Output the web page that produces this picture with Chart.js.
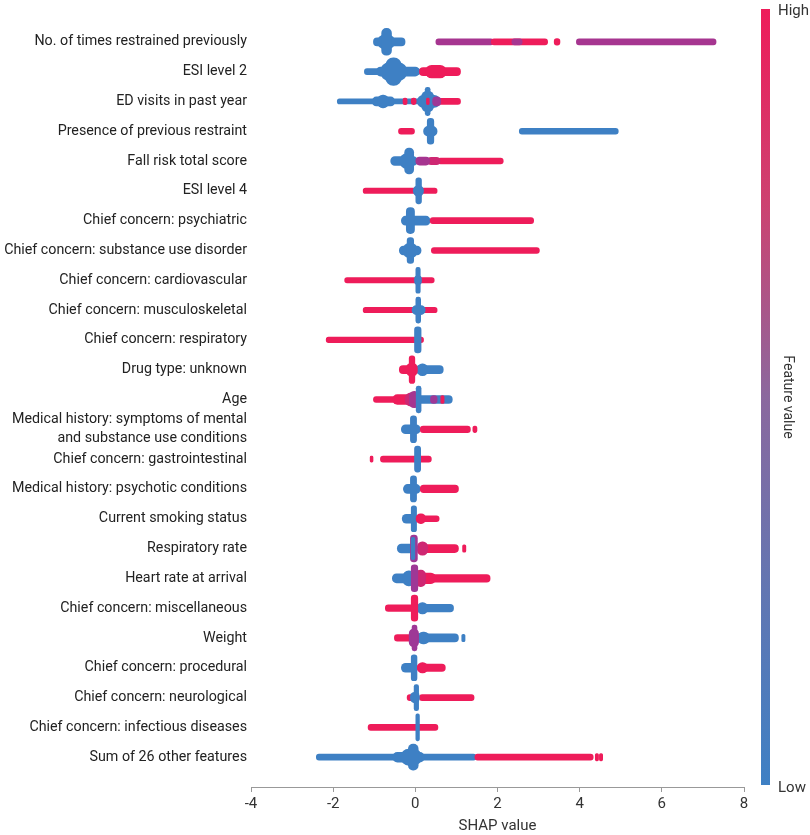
<!DOCTYPE html>
<html lang="en">
<head>
  <meta charset="UTF-8">
  <title>SHAP summary</title>
  <script src="https://cdn.jsdelivr.net/npm/chart.js"></script>
  <style>
    html, body { margin: 0; padding: 0; background: #fff; }
    #wrap { width: 810px; height: 835px; position: relative; }
  </style>
</head>
<body>
  <div id="wrap">
    <canvas id="myChart"></canvas>
  </div>

<script>
  // feature names, top to bottom
  const features = [
    'No. of times restrained previously',
    'ESI level 2',
    'ED visits in past year',
    'Presence of previous restraint',
    'Fall risk total score',
    'ESI level 4',
    'Chief concern: psychiatric',
    'Chief concern: substance use disorder',
    'Chief concern: cardiovascular',
    'Chief concern: musculoskeletal',
    'Chief concern: respiratory',
    'Drug type: unknown',
    'Age',
    ['Medical history: symptoms of mental', 'and substance use conditions'],
    'Chief concern: gastrointestinal',
    'Medical history: psychotic conditions',
    'Current smoking status',
    'Respiratory rate',
    'Heart rate at arrival',
    'Chief concern: miscellaneous',
    'Weight',
    'Chief concern: procedural',
    'Chief concern: neurological',
    'Chief concern: infectious diseases',
    'Sum of 26 other features'
  ]

  // swarm outline, one list per feature:
  // [shap from, shap to, point density (share of row), feature value 0=low 1=high]
  const swarm = [
    [[-1.02, -0.25, 0.27, 0], [-0.92, -0.5, 0.45, 0], [-0.82, -0.58, 0.9, 0],
     [0.5, 1.9, 0.2, 0.55], [1.85, 3.22, 0.2, 1], [2.35, 2.6, 0.2, 0.55],
     [3.38, 3.52, 0.22, 1], [3.92, 7.32, 0.2, 0.55]],
    [[-1.24, 0.12, 0.2, 0], [-0.95, 0.1, 0.3, 0], [-0.85, -0.2, 0.6, 0], [-0.72, -0.34, 0.93, 0],
     [0.1, 1.1, 0.27, 1], [0.25, 0.75, 0.42, 1]],
    [[-1.9, 0.35, 0.17, 0], [-1.05, -0.5, 0.3, 0], [-0.92, -0.65, 0.43, 0],
     [-0.3, -0.2, 0.22, 1], [-0.1, 0.02, 0.22, 1], [0.55, 1.1, 0.2, 1],
     [0.05, 0.6, 0.4, 0], [0.15, 0.45, 0.7, 0], [0.24, 0.36, 0.95, 0],
     [0.42, 0.62, 0.3, 0.5], [0.27, 0.34, 0.22, 1]],
    [[-0.41, -0.02, 0.2, 1], [0.2, 0.53, 0.33, 0], [0.29, 0.45, 0.87, 0], [2.53, 4.94, 0.2, 0]],
    [[-0.6, 0.05, 0.3, 0], [-0.38, 0.0, 0.5, 0], [-0.26, -0.04, 0.87, 0],
     [0.55, 2.14, 0.2, 1], [0.3, 0.6, 0.25, 0.8], [0.0, 0.35, 0.27, 0.55]],
    [[-1.27, 0.53, 0.18, 1], [-0.05, 0.2, 0.35, 0], [0.0, 0.15, 0.87, 0]],
    [[-0.34, 0.36, 0.3, 0], [-0.22, -0.02, 0.87, 0], [0.36, 2.88, 0.2, 1]],
    [[-0.39, 0.14, 0.3, 0], [-0.3, 0.05, 0.5, 0], [-0.2, -0.04, 0.87, 0], [0.39, 3.02, 0.2, 1]],
    [[-1.72, 0.46, 0.18, 1], [-0.02, 0.15, 0.3, 0], [0.0, 0.12, 0.87, 0]],
    [[-1.27, 0.53, 0.18, 1], [-0.08, 0.24, 0.3, 0], [0.0, 0.13, 0.87, 0]],
    [[-2.17, 0.2, 0.18, 1], [-0.02, 0.14, 0.87, 0]],
    [[0.0, 0.68, 0.27, 0], [0.05, 0.3, 0.4, 0],
     [-0.39, 0.0, 0.27, 1], [-0.22, 0.05, 0.45, 1], [-0.15, 0.0, 0.92, 1]],
    [[-1.02, 0.0, 0.2, 1], [-0.55, 0.05, 0.33, 1], [-0.25, 0.05, 0.45, 0.8],
     [0.0, 0.9, 0.27, 0], [0.37, 0.53, 0.27, 0.5], [0.62, 0.7, 0.27, 1],
     [-0.15, 0.1, 0.55, 0.55], [0.02, 0.14, 0.9, 0]],
    [[-0.34, 0.12, 0.3, 0], [-0.12, 0.03, 0.9, 0], [0.12, 1.34, 0.22, 1], [1.4, 1.5, 0.22, 1]],
    [[-1.1, -1.03, 0.2, 1], [-0.85, 0.39, 0.2, 1], [-0.02, 0.13, 0.87, 0]],
    [[-0.29, 0.12, 0.3, 0], [-0.12, 0.03, 0.87, 0], [0.12, 1.05, 0.25, 1]],
    [[-0.32, 0.05, 0.3, 0], [-0.1, 0.03, 0.87, 0], [0.02, 0.58, 0.2, 1], [0.02, 0.25, 0.33, 1]],
    [[-0.44, 0.0, 0.3, 0], [0.2, 1.05, 0.27, 1], [1.15, 1.23, 0.25, 1],
     [0.05, 0.3, 0.45, 0.8], [-0.12, 0.05, 0.9, 0.5], [-0.1, 0.0, 0.75, 0]],
    [[-0.56, 0.0, 0.3, 0], [-0.3, 0.0, 0.5, 0], [0.1, 1.82, 0.25, 1], [0.1, 0.5, 0.35, 1],
     [0.0, 0.25, 0.55, 0.8], [-0.1, 0.06, 0.9, 0.5]],
    [[-0.73, 0.05, 0.22, 1], [0.05, 0.93, 0.25, 0], [0.05, 0.3, 0.38, 0], [-0.1, 0.06, 0.87, 1]],
    [[-0.51, 0.0, 0.22, 1], [0.0, 1.05, 0.27, 0], [0.05, 0.35, 0.4, 0], [1.13, 1.21, 0.25, 0],
     [-0.15, 0.08, 0.6, 0.5], [-0.08, 0.04, 0.87, 0.5]],
    [[-0.34, 0.05, 0.3, 0], [-0.1, 0.04, 0.87, 0], [0.05, 0.73, 0.25, 1], [0.05, 0.3, 0.35, 1]],
    [[-0.2, 0.0, 0.2, 1], [0.1, 1.43, 0.2, 1], [-0.12, 0.1, 0.35, 0], [-0.03, 0.08, 0.87, 0]],
    [[-1.15, 0.55, 0.2, 1], [0.0, 0.1, 0.9, 0]],
    [[-2.41, 1.48, 0.2, 0], [1.45, 4.33, 0.2, 1], [4.38, 4.46, 0.25, 1], [4.48, 4.56, 0.25, 1],
     [-0.55, 0.22, 0.33, 0], [-0.35, 0.15, 0.55, 0], [-0.17, 0.07, 0.87, 0]]
  ]

  const shapMin = -4
  const shapMax = 8
  const shapStep = 2

  // styling
  const FONT = 'Roboto, "Noto Sans", sans-serif'
  const ROW_PX = 29.88
  const LOW = [62, 128, 196]
  const MID = [158, 56, 150]
  const HIGH = [238, 28, 90]

  // size the feature labels so the longest one fits the left margin
  const probe = document.createElement('canvas').getContext('2d')
  probe.font = '100px ' + FONT
  const labelSize = Math.min(16, 100 * 243 / probe.measureText('Chief concern: substance use disorder').width)

  function mix(a, b, t) {
    return a.map((c, i) => Math.round(c + (b[i] - c) * t))
  }
  function pointColor(v) {
    const c = v < 0.5 ? mix(LOW, MID, v / 0.5) : mix(MID, HIGH, (v - 0.5) / 0.5)
    return `rgb(${c[0]},${c[1]},${c[2]})`
  }

  // blank row at each end gives the one-row margin
  const labels = [''].concat(features, [''])

  const datasets = []
  swarm.forEach((segs, r) => {
    segs.forEach(([x0, x1, dens, fv]) => {
      const data = labels.map(() => null)
      data[r + 1] = [x0, x1]
      datasets.push({
        data: data,
        backgroundColor: pointColor(fv),
        barThickness: dens * ROW_PX,
        grouped: false,
        borderSkipped: false,
        borderRadius: 30,
        order: -datasets.length
      })
    })
  })

  const colorBar = {
    id: 'colorBar',
    afterDraw(chart) {
      const ctx = chart.ctx
      const top = 9
      const bottom = 785
      const x = 761
      const grad = ctx.createLinearGradient(0, top, 0, bottom)
      grad.addColorStop(0, 'rgb(238,28,90)')
      grad.addColorStop(0.25, 'rgb(205,66,112)')
      grad.addColorStop(0.5, 'rgb(139,104,158)')
      grad.addColorStop(0.75, 'rgb(98,118,178)')
      grad.addColorStop(1, 'rgb(62,128,196)')
      ctx.save()
      ctx.fillStyle = grad
      ctx.fillRect(x, top, 9, bottom - top)
      ctx.fillStyle = '#333'
      ctx.font = '15px ' + FONT
      ctx.textBaseline = 'middle'
      ctx.textAlign = 'left'
      ctx.fillText('High', 778, top + 2)
      ctx.fillText('Low', 778, bottom + 3)
      ctx.translate(794, 397)
      ctx.rotate(Math.PI / 2)
      ctx.textAlign = 'center'
      ctx.textBaseline = 'top'
      ctx.font = '14px ' + FONT
      ctx.fillText('Feature value', 0, 0)
      ctx.restore()
    }
  }

  new Chart(document.getElementById('myChart'), {
    type: 'bar',
    data: { labels: labels, datasets: datasets },
    options: {
      indexAxis: 'y',
      responsive: true,
      maintainAspectRatio: false,
      animation: false,
      events: [],
      layout: { padding: { top: 12, right: 66, bottom: 0, left: 0 } },
      plugins: {
        legend: { display: false },
        tooltip: { enabled: false }
      },
      scales: {
        x: {
          type: 'linear',
          min: shapMin,
          max: shapMax,
          ticks: {
            stepSize: shapStep,
            color: '#333',
            padding: 3,
            font: { family: FONT, size: 15 }
          },
          grid: { drawOnChartArea: false, drawTicks: true, tickLength: 5, color: '#999' },
          border: { display: true, color: '#999' },
          title: {
            display: true,
            text: 'SHAP value',
            color: '#333',
            padding: { top: 0, bottom: 0 },
            font: { family: FONT, size: 15 }
          },
          afterFit(scale) { scale.height = 48 }
        },
        y: {
          type: 'category',
          offset: false,
          ticks: {
            autoSkip: false,
            color: '#222',
            padding: 4,
            font: { family: FONT, size: labelSize, lineHeight: 19 / labelSize }
          },
          grid: { display: false, drawTicks: false },
          border: { display: false },
          afterFit(scale) {
            scale.width = 251
            scale.paddingTop = 0
            scale.paddingBottom = 0
          }
        }
      }
    },
    plugins: [colorBar]
  });
</script>
</body>
</html>
